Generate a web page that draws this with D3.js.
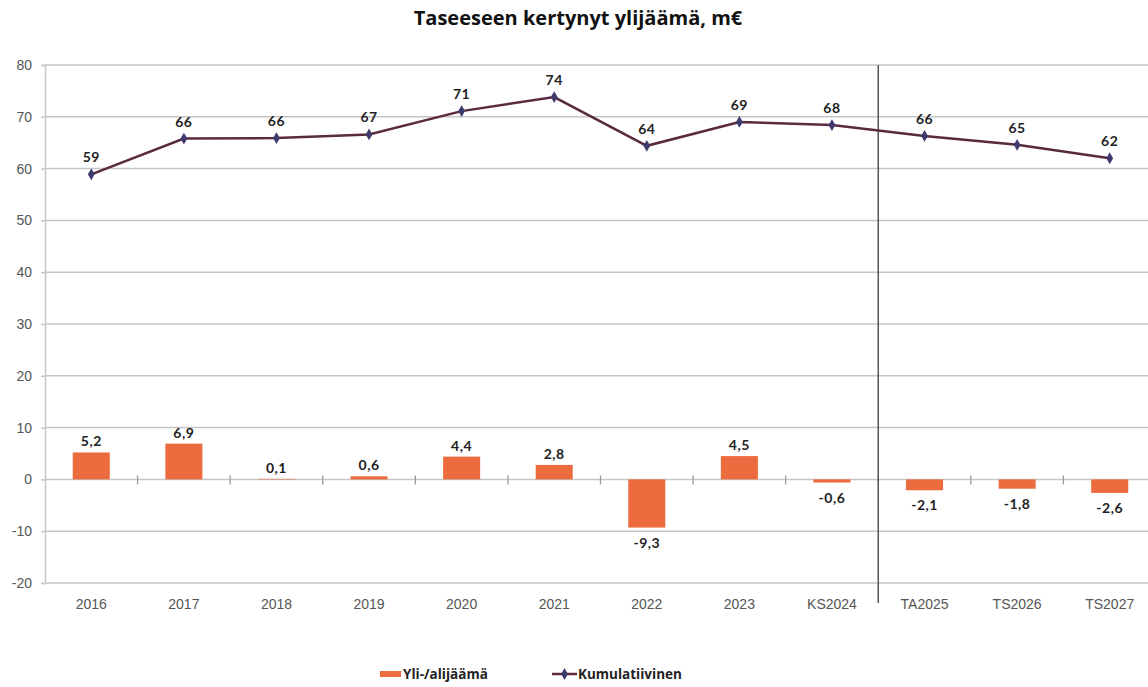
<!DOCTYPE html>
<html>
<head>
<meta charset="utf-8">
<script src="https://cdn.jsdelivr.net/npm/d3@7"></script>
<style>
  body { margin: 0; background: #fff; }
  svg { display: block; font-family: Lato, "Open Sans", sans-serif; }
</style>
</head>
<body>
<div id="chart"></div>
<script>
// Chart data
var categories = ["2016", "2017", "2018", "2019", "2020", "2021", "2022", "2023", "KS2024", "TA2025", "TS2026", "TS2027"];
var surplus = [5.2, 6.9, 0.1, 0.6, 4.4, 2.8, -9.3, 4.5, -0.6, -2.1, -1.8, -2.6];
var cumulative = [58.9, 65.8, 65.9, 66.6, 71.1, 73.8, 64.4, 69.0, 68.4, 66.3, 64.6, 62.0];
var yTicks = [-20, -10, 0, 10, 20, 30, 40, 50, 60, 70, 80];
var seriesNames = ["Yli-/alijäämä", "Kumulatiivinen"];

var svgWidth = 1148;
var svgHeight = 687;

var margin = { top: 65, left: 45, right: -8, bottom: 104 };
var chartWidth = svgWidth - margin.left - margin.right;
var chartHeight = svgHeight - margin.top - margin.bottom;

var barColor = "#ec6c3f";
var lineColor = "#5a2a3e";
var markerColor = "#3f3a6e";
var gridColor = "#c6c6c6";

var svg = d3.select("#chart")
    .append("svg")
    .attr("width", svgWidth)
    .attr("height", svgHeight);

// Title
svg.append("text")
    .attr("x", 578)
    .attr("y", 25)
    .attr("text-anchor", "middle")
    .style("font-family", "'Open Sans', sans-serif")
    .style("font-weight", "bold")
    .style("font-size", "20px")
    .attr("fill", "#111")
    .text("Taseeseen kertynyt ylijäämä, m€");

var chartGroup = svg.append("g")
    .attr("transform", `translate(${margin.left}, ${margin.top})`);

var xScale = d3.scaleBand()
    .domain(categories)
    .range([0, chartWidth])
    .padding(0);

var yScale = d3.scaleLinear()
    .domain([-20, 80])
    .range([chartHeight, 0]);

var bw = xScale.bandwidth();
var cx = d => xScale(d) + bw / 2;

// Gridlines
chartGroup.append("g")
    .selectAll("line")
    .data(yTicks)
    .enter()
    .append("line")
    .attr("x1", 0)
    .attr("x2", chartWidth)
    .attr("y1", d => yScale(d))
    .attr("y2", d => yScale(d))
    .attr("stroke", gridColor)
    .attr("stroke-width", 1.5);

// Left axis
var leftAxis = d3.axisLeft(yScale)
    .tickValues(yTicks)
    .tickFormat(d => String(d))
    .tickSize(4)
    .tickPadding(9);
var yAxisG = chartGroup.append("g").call(leftAxis);
yAxisG.select(".domain").attr("stroke", gridColor).attr("stroke-width", 1.5);
yAxisG.selectAll(".tick line").attr("stroke", gridColor).attr("stroke-width", 1.5);
yAxisG.selectAll(".tick text")
    .attr("fill", "#555")
    .style("font-size", "14px");

// Category axis at zero
var bottomAxis = d3.axisBottom(xScale).tickSize(0).tickPadding(0);
var xAxisG = chartGroup.append("g")
    .attr("transform", `translate(0, ${chartHeight})`)
    .call(bottomAxis);
xAxisG.select(".domain").remove();
xAxisG.selectAll(".tick text")
    .attr("y", 26)
    .attr("dy", 0)
    .attr("fill", "#555")
    .style("font-size", "14px");

// Tick marks on zero line between categories
chartGroup.append("g")
    .selectAll("line")
    .data(categories.slice(1))
    .enter()
    .append("line")
    .attr("x1", d => xScale(d))
    .attr("x2", d => xScale(d))
    .attr("y1", yScale(0) - 4)
    .attr("y2", yScale(0) + 5)
    .attr("stroke", "#9a9a9a")
    .attr("stroke-width", 1.3);

// Separator between actuals and plans
chartGroup.append("line")
    .attr("x1", xScale("TA2025"))
    .attr("x2", xScale("TA2025"))
    .attr("y1", 0)
    .attr("y2", chartHeight + 20)
    .attr("stroke", "#555")
    .attr("stroke-width", 1.5);

// Bars
var barData = categories.map((c, i) => ({ cat: c, v: surplus[i] }));
chartGroup.selectAll(".bar")
    .data(barData)
    .enter()
    .append("rect")
    .attr("class", "bar")
    .attr("x", d => xScale(d.cat) + bw * 0.3)
    .attr("width", bw * 0.4)
    .attr("y", d => yScale(Math.max(0, d.v)))
    .attr("height", d => Math.abs(yScale(d.v) - yScale(0)))
    .attr("fill", barColor);

var fmtComma = v => v.toFixed(1).replace(".", ",");

chartGroup.selectAll(".barLabel")
    .data(barData)
    .enter()
    .append("text")
    .attr("class", "barLabel")
    .attr("x", d => cx(d.cat))
    .attr("y", d => d.v >= 0 ? yScale(d.v) - 6 : yScale(d.v) + 20)
    .attr("text-anchor", "middle")
    .style("font-size", "14px")
    .style("font-weight", "bold")
    .style("letter-spacing", "0.5px")
    .attr("fill", "#222")
    .text(d => fmtComma(d.v));

// Cumulative line
var lineData = categories.map((c, i) => ({ cat: c, v: cumulative[i] }));
var line = d3.line()
    .x(d => cx(d.cat))
    .y(d => yScale(d.v));

chartGroup.append("path")
    .datum(lineData)
    .attr("d", line)
    .attr("fill", "none")
    .attr("stroke", lineColor)
    .attr("stroke-width", 2.5);

var diamond = d3.symbol().type(d3.symbolDiamond).size(40);
chartGroup.selectAll(".marker")
    .data(lineData)
    .enter()
    .append("path")
    .attr("class", "marker")
    .attr("d", diamond)
    .attr("transform", d => `translate(${cx(d.cat)}, ${yScale(d.v)})`)
    .attr("fill", markerColor);

chartGroup.selectAll(".lineLabel")
    .data(lineData)
    .enter()
    .append("text")
    .attr("class", "lineLabel")
    .attr("x", d => cx(d.cat))
    .attr("y", d => yScale(d.v) - 12)
    .attr("text-anchor", "middle")
    .style("font-size", "14px")
    .style("font-weight", "bold")
    .style("letter-spacing", "0.5px")
    .attr("fill", "#222")
    .text(d => d3.format(".0f")(d.v));

// Legend
var legend = svg.append("g").attr("transform", "translate(0, 674)");
legend.append("rect")
    .attr("x", 380)
    .attr("y", -3)
    .attr("width", 21)
    .attr("height", 6)
    .attr("fill", barColor);
legend.append("text")
    .attr("x", 403)
    .attr("y", 5)
    .style("font-family", "'Open Sans', sans-serif")
    .style("font-size", "13.5px")
    .style("font-weight", "bold")
    .attr("fill", "#222")
    .text(seriesNames[0]);
legend.append("line")
    .attr("x1", 552)
    .attr("x2", 577)
    .attr("y1", 0)
    .attr("y2", 0)
    .attr("stroke", lineColor)
    .attr("stroke-width", 2.5);
legend.append("path")
    .attr("d", diamond)
    .attr("transform", "translate(564.5, 0)")
    .attr("fill", markerColor);
legend.append("text")
    .attr("x", 578)
    .attr("y", 5)
    .style("font-family", "'Open Sans', sans-serif")
    .style("font-size", "13.5px")
    .style("font-weight", "bold")
    .attr("fill", "#222")
    .text(seriesNames[1]);
</script>
</body>
</html>
